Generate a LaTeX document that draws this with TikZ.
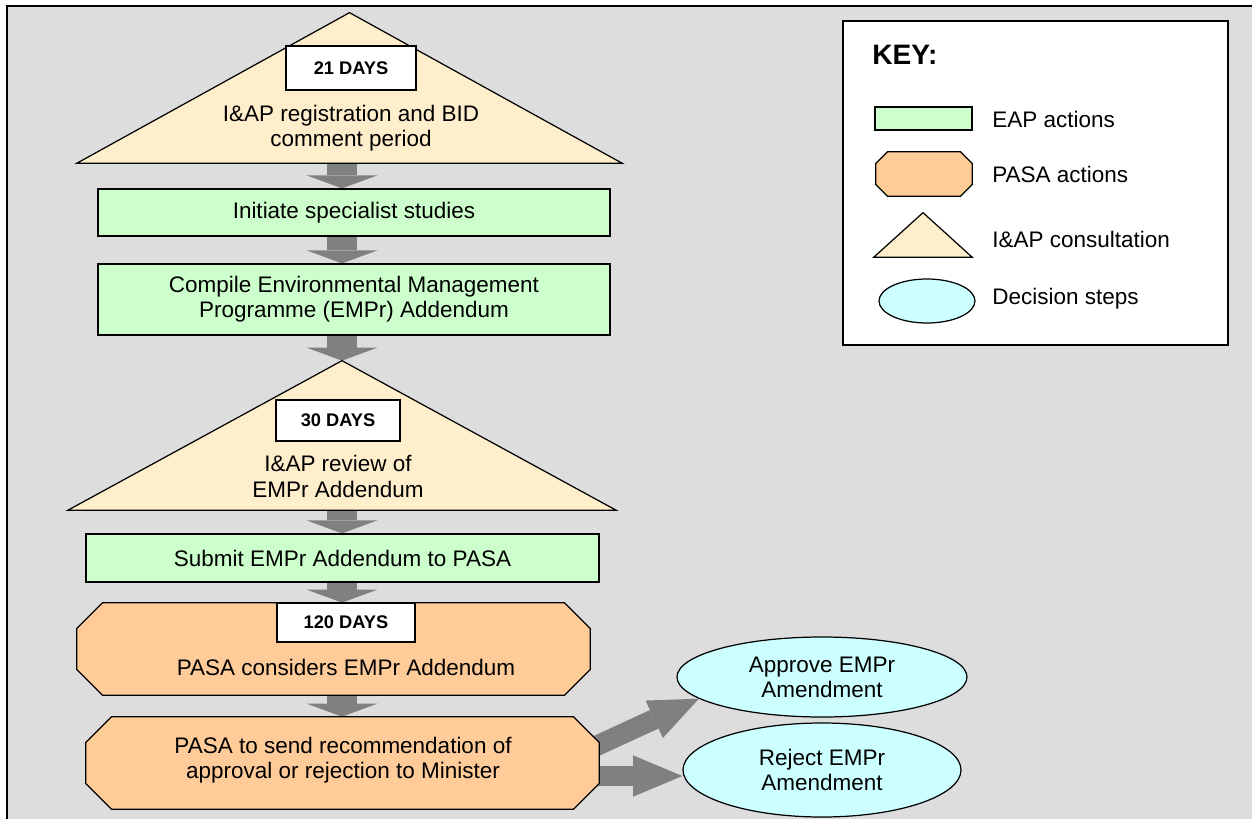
\documentclass[tikz,border=0pt]{standalone}
\usepackage{fontspec}
\setmainfont{Liberation Sans}
\usetikzlibrary{positioning,calc,shapes.geometric,arrows.meta}

\definecolor{panelgray}{HTML}{DDDDDD}
\definecolor{eapgreen}{HTML}{CCFFCC}
\definecolor{pasaorange}{HTML}{FFCC99}
\definecolor{iapbeige}{HTML}{FFEECC}
\definecolor{decisioncyan}{HTML}{CCFFFF}
\definecolor{flowgray}{HTML}{808080}

\newcommand{\upx}{0.02cm}
\pgfdeclarelayer{back}
\pgfdeclarelayer{flow}
\pgfsetlayers{back,flow,main}

\begin{document}
\begin{tikzpicture}[x=\upx,y=-\upx,on grid,
    every node/.style={font=\fontsize{12.8}{14.3}\selectfont, inner sep=0pt, align=center},
    eap/.style={draw, line width=0.7pt, fill=eapgreen},
    pasa/.style={draw, line width=0.7pt, fill=pasaorange},
    iap/.style={draw, line width=0.7pt, fill=iapbeige},
    decision/.style={ellipse, draw, line width=0.7pt, fill=decisioncyan},
    days/.style={draw, line width=0.7pt, fill=white, font=\fontsize{10.4}{12}\selectfont\bfseries},
    flow/.style={draw=flowgray, line width=17.6pt, -{Triangle[width=40.2pt,length=7.4pt,line width=0pt]}},
    branch/.style={draw=flowgray, line width=11.6pt, -{Triangle[width=23.5pt,length=28pt,line width=0pt]}},
    keytext/.style={anchor=west}]

    \useasboundingbox (0,0) rectangle (1252,819);

    % key frame
    \node[draw, line width=1.1pt, fill=white, minimum width=385*\upx, minimum height=324*\upx] (keybox) at (1035.5,183) {};

    % consultation triangles
    \node[minimum width=545*\upx, minimum height=150*\upx] (tri1) at (349.5,88) {};
    \node[minimum width=548*\upx, minimum height=149*\upx] (tri2) at (342,435.5) {};
    \node[minimum width=98*\upx, minimum height=44*\upx] (kiap) at (923,235) {};
    \foreach \t in {tri1,tri2,kiap}
        \draw[iap] (\t.south west) -- (\t.north) -- (\t.south east) -- cycle;

    % PASA octagons
    \node[minimum width=513*\upx, minimum height=92*\upx] (pasa1) at (333.5,649) {};
    \node[minimum width=513*\upx, minimum height=92*\upx] (pasa2) at (342.5,763) {};
    \node[minimum width=96*\upx, minimum height=44*\upx] (kpasa) at (924,174) {};
    \foreach \o/\c in {pasa1/26,pasa2/26,kpasa/12}
        \draw[pasa] ($(\o.north west)+(\c,0)$) -- ($(\o.north east)+(-\c,0)$)
            -- ($(\o.north east)+(0,\c)$) -- ($(\o.south east)+(0,-\c)$)
            -- ($(\o.south east)+(-\c,0)$) -- ($(\o.south west)+(\c,0)$)
            -- ($(\o.south west)+(0,-\c)$) -- ($(\o.north west)+(0,\c)$) -- cycle;

    \node[days, minimum width=130*\upx, minimum height=44*\upx] (days1) at (351,68) {21 DAYS};
    \node (register) [below=1.2cm of days1] {I\&AP registration and BID\\comment period};

    \node[eap, minimum width=512*\upx, minimum height=47*\upx] (init) at (354,212.5) {Initiate specialist studies};
    \node[eap, minimum width=512*\upx, minimum height=71*\upx] (compile) at (354,299.5)
        {Compile Environmental Management\\Programme (EMPr) Addendum};

    \node[days, minimum width=124*\upx, minimum height=41*\upx] (days2) at (338,420.5) {30 DAYS};
    \node (review) [below=1.12cm of days2] {I\&AP review of\\EMPr Addendum};

    \node[eap, minimum width=513*\upx, minimum height=48*\upx] (submit) at (342.5,558) {Submit EMPr Addendum to PASA};

    \node[days, minimum width=138*\upx, minimum height=39*\upx] (days3) at (346,622.5) {120 DAYS};
    \node (consider) [below=0.89cm of days3] {PASA considers EMPr Addendum};
    \node (recommend) at (343,760) {PASA to send recommendation of\\approval or rejection to Minister};

    % decisions
    \node[decision, minimum width=290*\upx, minimum height=80*\upx] (approve) at (822,677) {Approve EMPr\\Amendment};
    \node[decision, minimum width=278*\upx, minimum height=94*\upx] (reject) at (822,770) {Reject EMPr\\Amendment};

    % key
    \node[anchor=west, font=\fontsize{16}{18}\selectfont\bfseries] (keytitle) at (872,55) {KEY:};
    \node[eap, minimum width=97*\upx, minimum height=23*\upx] (keap) at (923.5,118.5) {};
    \node[decision, minimum width=96*\upx, minimum height=44*\upx] (kdecision) at (927,301) {};
    \node[keytext] (leap) at (992,119) {EAP actions};
    \node[keytext] (lpasa) at (992,174) {PASA actions};
    \node[keytext] (liap) at (992,239) {I\&AP consultation};
    \node[keytext] (ldecision) at (992,299) {Decision steps};

    % arrows
    \coordinate (axis) at (342,0);
    \begin{pgfonlayer}{flow}
        \foreach \a/\b in {tri1/init,init/compile,compile/tri2,tri2/submit,submit/pasa1,pasa1/pasa2}
            \draw[flow] (\a.south -| axis) -- (\b.north -| axis);
        \coordinate (approvefoot) at ($(pasa2.east)+(-14,-12)$);
        \draw[branch] (approvefoot) -- (approve.190);
        \coordinate (rejectfoot) at ($(pasa2.east)+(-10,13)$);
        \draw[branch] (rejectfoot) -- (rejectfoot -| reject.west);
    \end{pgfonlayer}

    % panel
    \begin{pgfonlayer}{back}
        \fill[white] (0,0) rectangle (1252,819);
        \fill[panelgray] (7,6) rectangle (1252,819);
        \draw[line width=1.2pt] (7,819) -- (7,6) -- (1252,6);
    \end{pgfonlayer}
\end{tikzpicture}
\end{document}
